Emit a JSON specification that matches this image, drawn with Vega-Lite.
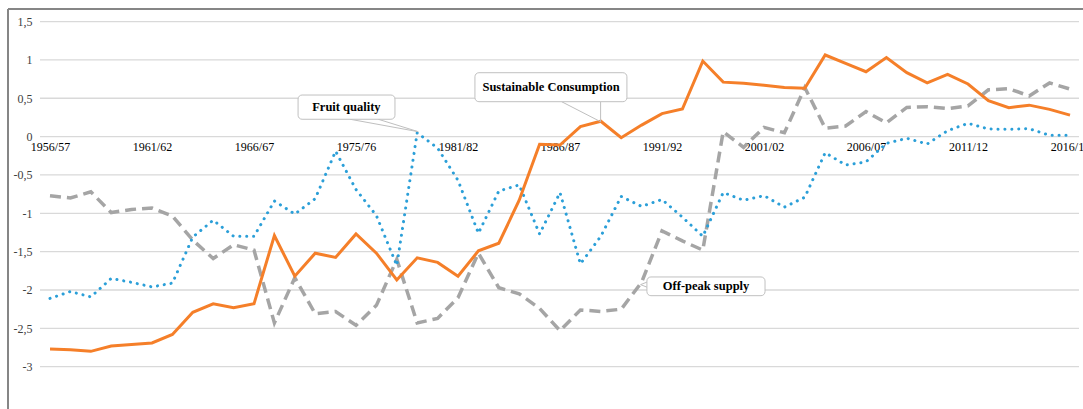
{
  "$schema": "https://vega.github.io/schema/vega-lite/v6.json",
  "width": 1075,
  "height": 400,
  "autosize": "none",
  "padding": {"left": 8, "top": 9, "right": 0, "bottom": 0},
  "background": "white",
  "config": {
    "view": {"stroke": null},
    "font": "Liberation Serif",
    "locale": {"number": {"decimal": ",", "thousands": ".", "grouping": [3], "currency": ["", " €"], "minus": "-"}},
    "axisX": {
      "orient": "bottom", "offset": -272.4,
      "labelExpr": "['1956/57','1961/62','1966/67','1975/76','1981/82','1986/87','1991/92','2001/02','2006/07','2011/12','2016/17'][round(datum.value/5)]",
      "domain": false, "ticks": false, "grid": false, "title": null,
      "labelPadding": 5, "labelFlush": false, "labelOverlap": false,
      "labelFont": "Liberation Serif", "labelFontSize": 12, "labelColor": "#000000"
    },
    "axisY": {
      "format": ".1~f",
      "orient": "left", "offset": -32,
      "title": null, "grid": false, "ticks": false, "domain": false,
      "labelPadding": 8,
      "labelFont": "Liberation Serif", "labelFontSize": 12, "labelColor": "#404040"
    }
  },
  "datasets": {
    "series": [
      {"i": 0, "season": "1956/57", "consumption": -2.77, "quality": -2.11, "offpeak": -0.77},
      {"i": 1, "season": "1957/58", "consumption": -2.78, "quality": -2.02, "offpeak": -0.8},
      {"i": 2, "season": "1958/59", "consumption": -2.8, "quality": -2.09, "offpeak": -0.72},
      {"i": 3, "season": "1959/60", "consumption": -2.73, "quality": -1.85, "offpeak": -0.99},
      {"i": 4, "season": "1960/61", "consumption": -2.71, "quality": -1.9, "offpeak": -0.95},
      {"i": 5, "season": "1961/62", "consumption": -2.69, "quality": -1.96, "offpeak": -0.93},
      {"i": 6, "season": "1962/63", "consumption": -2.58, "quality": -1.91, "offpeak": -1.035},
      {"i": 7, "season": "1963/64", "consumption": -2.29, "quality": -1.31, "offpeak": -1.35},
      {"i": 8, "season": "1964/65", "consumption": -2.18, "quality": -1.09, "offpeak": -1.59},
      {"i": 9, "season": "1965/66", "consumption": -2.23, "quality": -1.3, "offpeak": -1.41},
      {"i": 10, "season": "1966/67", "consumption": -2.18, "quality": -1.3, "offpeak": -1.48},
      {"i": 11, "season": "1968/69", "consumption": -1.29, "quality": -0.84, "offpeak": -2.43},
      {"i": 12, "season": "1970/71", "consumption": -1.82, "quality": -1.01, "offpeak": -1.84},
      {"i": 13, "season": "1972/73", "consumption": -1.52, "quality": -0.81, "offpeak": -2.31},
      {"i": 14, "season": "1974/75", "consumption": -1.575, "quality": -0.19, "offpeak": -2.28},
      {"i": 15, "season": "1975/76", "consumption": -1.27, "quality": -0.69, "offpeak": -2.46},
      {"i": 16, "season": "1977/78", "consumption": -1.52, "quality": -1.03, "offpeak": -2.2},
      {"i": 17, "season": "1978/79", "consumption": -1.87, "quality": -1.68, "offpeak": -1.6},
      {"i": 18, "season": "1979/80", "consumption": -1.58, "quality": 0.05, "offpeak": -2.43},
      {"i": 19, "season": "1980/81", "consumption": -1.64, "quality": -0.15, "offpeak": -2.37},
      {"i": 20, "season": "1981/82", "consumption": -1.82, "quality": -0.57, "offpeak": -2.1},
      {"i": 21, "season": "1982/83", "consumption": -1.49, "quality": -1.26, "offpeak": -1.52},
      {"i": 22, "season": "1983/84", "consumption": -1.39, "quality": -0.71, "offpeak": -1.97},
      {"i": 23, "season": "1984/85", "consumption": -0.83, "quality": -0.63, "offpeak": -2.05},
      {"i": 24, "season": "1985/86", "consumption": -0.1, "quality": -1.27, "offpeak": -2.24},
      {"i": 25, "season": "1986/87", "consumption": -0.11, "quality": -0.73, "offpeak": -2.53},
      {"i": 26, "season": "1987/88", "consumption": 0.13, "quality": -1.66, "offpeak": -2.26},
      {"i": 27, "season": "1988/89", "consumption": 0.2, "quality": -1.3, "offpeak": -2.28},
      {"i": 28, "season": "1989/90", "consumption": -0.015, "quality": -0.78, "offpeak": -2.25},
      {"i": 29, "season": "1990/91", "consumption": 0.15, "quality": -0.91, "offpeak": -1.9},
      {"i": 30, "season": "1991/92", "consumption": 0.3, "quality": -0.82, "offpeak": -1.23},
      {"i": 31, "season": "1993/94", "consumption": 0.36, "quality": -1.05, "offpeak": -1.36},
      {"i": 32, "season": "1995/96", "consumption": 0.985, "quality": -1.3, "offpeak": -1.48},
      {"i": 33, "season": "1997/98", "consumption": 0.71, "quality": -0.73, "offpeak": 0.064},
      {"i": 34, "season": "1999/00", "consumption": 0.695, "quality": -0.83, "offpeak": -0.14},
      {"i": 35, "season": "2001/02", "consumption": 0.67, "quality": -0.77, "offpeak": 0.12},
      {"i": 36, "season": "2002/03", "consumption": 0.64, "quality": -0.92, "offpeak": 0.05},
      {"i": 37, "season": "2003/04", "consumption": 0.63, "quality": -0.79, "offpeak": 0.64},
      {"i": 38, "season": "2004/05", "consumption": 1.064, "quality": -0.21, "offpeak": 0.11},
      {"i": 39, "season": "2005/06", "consumption": 0.955, "quality": -0.37, "offpeak": 0.138},
      {"i": 40, "season": "2006/07", "consumption": 0.846, "quality": -0.33, "offpeak": 0.325},
      {"i": 41, "season": "2007/08", "consumption": 1.03, "quality": -0.088, "offpeak": 0.18},
      {"i": 42, "season": "2008/09", "consumption": 0.833, "quality": -0.022, "offpeak": 0.38},
      {"i": 43, "season": "2009/10", "consumption": 0.7, "quality": -0.097, "offpeak": 0.39},
      {"i": 44, "season": "2010/11", "consumption": 0.81, "quality": 0.077, "offpeak": 0.365},
      {"i": 45, "season": "2011/12", "consumption": 0.686, "quality": 0.173, "offpeak": 0.4},
      {"i": 46, "season": "2012/13", "consumption": 0.47, "quality": 0.099, "offpeak": 0.61},
      {"i": 47, "season": "2013/14", "consumption": 0.377, "quality": 0.095, "offpeak": 0.625},
      {"i": 48, "season": "2014/15", "consumption": 0.41, "quality": 0.103, "offpeak": 0.53},
      {"i": 49, "season": "2015/16", "consumption": 0.355, "quality": 0.017, "offpeak": 0.7},
      {"i": 50, "season": "2016/17", "consumption": 0.28, "quality": 0.017, "offpeak": 0.62}
    ],
    "grid": [
      {"tick": -3}, {"tick": -2.5}, {"tick": -2}, {"tick": -1.5}, {"tick": -1},
      {"tick": -0.5}, {"tick": 0}, {"tick": 0.5}, {"tick": 1}, {"tick": 1.5}
    ],
    "leaders": [
      {"x": 14.71, "y": 0.226, "x2": 18.05, "y2": 0.064},
      {"x": 16.09, "y": 0.226, "x2": 18.05, "y2": 0.064},
      {"x": 25.08, "y": 0.455, "x2": 26.99, "y2": 0.194},
      {"x": 26.99, "y": 0.455, "x2": 26.99, "y2": 0.194},
      {"x": 29.33, "y": -1.89, "x2": 28.95, "y2": -1.93},
      {"x": 29.33, "y": -1.97, "x2": 28.95, "y2": -1.93}
    ],
    "boxes": [
      {"label": "Fruit quality", "x": 12.16, "x2": 16.91, "y": 0.542, "y2": 0.226, "tx": 14.53, "ty": 0.384},
      {"label": "Sustainable Consumption", "x": 20.83, "x2": 28.28, "y": 0.833, "y2": 0.455, "tx": 24.56, "ty": 0.644},
      {"label": "Off-peak supply", "x": 29.26, "x2": 35.05, "y": -1.83, "y2": -2.074, "tx": 32.16, "ty": -1.953}
    ]
  },
  "layer": [
    {
      "data": {"name": "grid"},
      "mark": {"type": "rule", "color": "#d9d9d9", "strokeWidth": 1.3},
      "encoding": {
        "y": {"field": "tick", "type": "quantitative", "scale": {"domain": [-3.5515, 1.6636], "nice": false, "zero": false}, "axis": {"values": [-3, -2.5, -2, -1.5, -1, -0.5, 0, 0.5, 1, 1.5]}},
        "x": {"datum": -0.49, "type": "quantitative", "scale": {"domain": [-2.059, 50.637], "nice": false, "zero": false}, "axis": {"values": [0, 5, 10, 15, 20, 25, 30, 35, 40, 45, 50]}},
        "x2": {"datum": 50.44}
      }
    },
    {
      "data": {"name": "grid"},
      "mark": {"type": "rule", "color": "#868686", "strokeWidth": 2},
      "encoding": {
        "x": {"datum": -2.059, "type": "quantitative", "scale": {"domain": [-2.059, 50.637], "nice": false, "zero": false}, "axis": {"values": [0, 5, 10, 15, 20, 25, 30, 35, 40, 45, 50]}},
        "y": {"datum": -3.5515, "type": "quantitative", "scale": {"domain": [-3.5515, 1.6636], "nice": false, "zero": false}, "axis": {"values": [-3, -2.5, -2, -1.5, -1, -0.5, 0, 0.5, 1, 1.5]}},
        "y2": {"datum": 1.6636}
      }
    },
    {
      "data": {"name": "grid"},
      "mark": {"type": "rule", "color": "#868686", "strokeWidth": 2},
      "encoding": {
        "y": {"datum": 1.6636, "type": "quantitative", "scale": {"domain": [-3.5515, 1.6636], "nice": false, "zero": false}, "axis": {"values": [-3, -2.5, -2, -1.5, -1, -0.5, 0, 0.5, 1, 1.5]}},
        "x": {"datum": -2.059, "type": "quantitative", "scale": {"domain": [-2.059, 50.637], "nice": false, "zero": false}, "axis": {"values": [0, 5, 10, 15, 20, 25, 30, 35, 40, 45, 50]}},
        "x2": {"datum": 50.637}
      }
    },
    {
      "data": {"name": "series"},
      "mark": {"type": "line", "color": "#a5a5a5", "strokeWidth": 3.5, "strokeDash": [11, 6]},
      "encoding": {
        "x": {"field": "i", "type": "quantitative", "scale": {"domain": [-2.059, 50.637], "nice": false, "zero": false}, "axis": {"values": [0, 5, 10, 15, 20, 25, 30, 35, 40, 45, 50]}},
        "y": {"field": "offpeak", "type": "quantitative", "scale": {"domain": [-3.5515, 1.6636], "nice": false, "zero": false}, "axis": {"values": [-3, -2.5, -2, -1.5, -1, -0.5, 0, 0.5, 1, 1.5]}}
      }
    },
    {
      "data": {"name": "series"},
      "mark": {"type": "line", "color": "#2b9fd8", "strokeWidth": 3, "strokeDash": [0.1, 6.8], "strokeCap": "round"},
      "encoding": {
        "x": {"field": "i", "type": "quantitative", "scale": {"domain": [-2.059, 50.637], "nice": false, "zero": false}, "axis": {"values": [0, 5, 10, 15, 20, 25, 30, 35, 40, 45, 50]}},
        "y": {"field": "quality", "type": "quantitative", "scale": {"domain": [-3.5515, 1.6636], "nice": false, "zero": false}, "axis": {"values": [-3, -2.5, -2, -1.5, -1, -0.5, 0, 0.5, 1, 1.5]}}
      }
    },
    {
      "data": {"name": "series"},
      "mark": {"type": "line", "color": "#f57f29", "strokeWidth": 3},
      "encoding": {
        "x": {"field": "i", "type": "quantitative", "scale": {"domain": [-2.059, 50.637], "nice": false, "zero": false}, "axis": {"values": [0, 5, 10, 15, 20, 25, 30, 35, 40, 45, 50]}},
        "y": {"field": "consumption", "type": "quantitative", "scale": {"domain": [-3.5515, 1.6636], "nice": false, "zero": false}, "axis": {"values": [-3, -2.5, -2, -1.5, -1, -0.5, 0, 0.5, 1, 1.5]}}
      }
    },
    {
      "data": {"name": "leaders"},
      "mark": {"type": "rule", "color": "#bfbfbf", "strokeWidth": 1},
      "encoding": {
        "x": {"field": "x", "type": "quantitative", "scale": {"domain": [-2.059, 50.637], "nice": false, "zero": false}, "axis": {"values": [0, 5, 10, 15, 20, 25, 30, 35, 40, 45, 50]}},
        "x2": {"field": "x2"},
        "y": {"field": "y", "type": "quantitative", "scale": {"domain": [-3.5515, 1.6636], "nice": false, "zero": false}, "axis": {"values": [-3, -2.5, -2, -1.5, -1, -0.5, 0, 0.5, 1, 1.5]}},
        "y2": {"field": "y2"}
      }
    },
    {
      "data": {"name": "boxes"},
      "mark": {"type": "rect", "fill": "white", "stroke": "#c0c0c0", "strokeWidth": 1, "cornerRadius": 4},
      "encoding": {
        "x": {"field": "x", "type": "quantitative", "scale": {"domain": [-2.059, 50.637], "nice": false, "zero": false}, "axis": {"values": [0, 5, 10, 15, 20, 25, 30, 35, 40, 45, 50]}},
        "x2": {"field": "x2"},
        "y": {"field": "y", "type": "quantitative", "scale": {"domain": [-3.5515, 1.6636], "nice": false, "zero": false}, "axis": {"values": [-3, -2.5, -2, -1.5, -1, -0.5, 0, 0.5, 1, 1.5]}},
        "y2": {"field": "y2"}
      }
    },
    {
      "data": {"name": "boxes"},
      "mark": {"type": "text", "font": "Liberation Serif", "fontWeight": "bold", "fontSize": 12.5, "color": "#000000", "align": "center", "baseline": "middle"},
      "encoding": {
        "x": {"field": "tx", "type": "quantitative", "scale": {"domain": [-2.059, 50.637], "nice": false, "zero": false}, "axis": {"values": [0, 5, 10, 15, 20, 25, 30, 35, 40, 45, 50]}},
        "y": {"field": "ty", "type": "quantitative", "scale": {"domain": [-3.5515, 1.6636], "nice": false, "zero": false}, "axis": {"values": [-3, -2.5, -2, -1.5, -1, -0.5, 0, 0.5, 1, 1.5]}},
        "text": {"field": "label"}
      }
    }
  ]
}
